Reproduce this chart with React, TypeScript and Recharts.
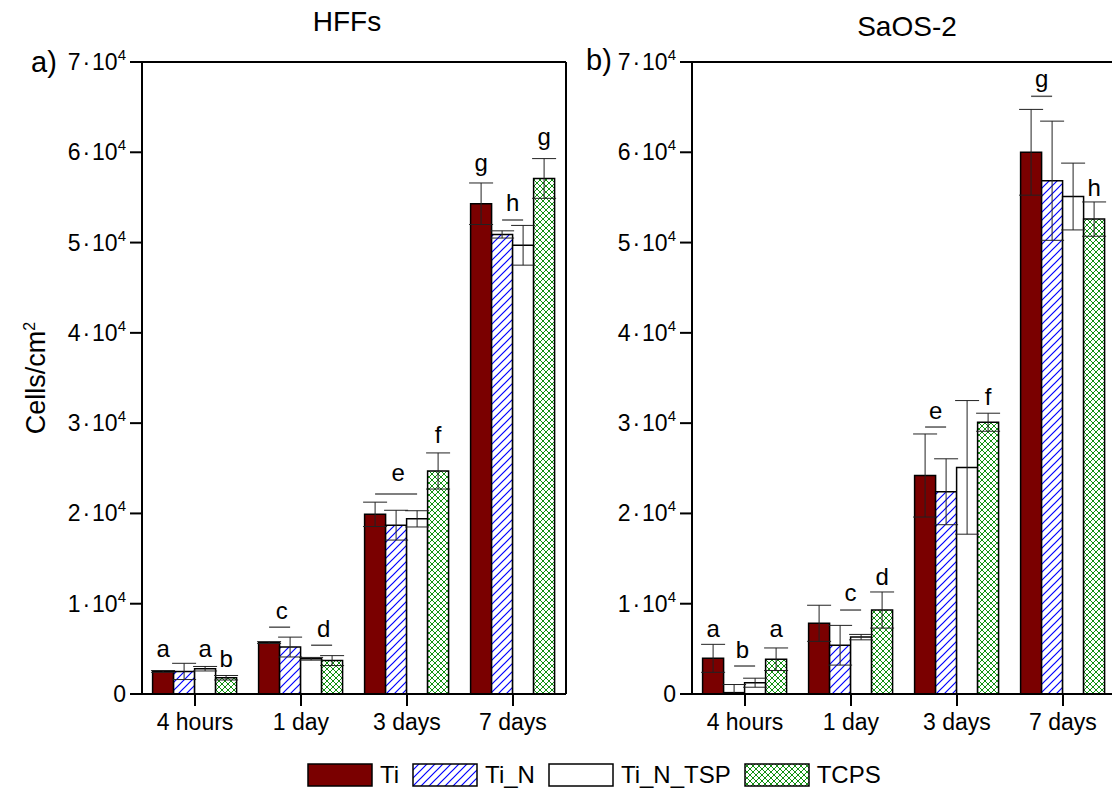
import React from 'react';
import { BarChart, Bar, XAxis, YAxis, ErrorBar, ReferenceLine } from 'recharts';

const categories = ['4 hours', '1 day', '3 days', '7 days'];
const seriesNames = ['Ti', 'Ti_N', 'Ti_N_TSP', 'TCPS'];
const yTicks = [0, 10000, 20000, 30000, 40000, 50000, 60000, 70000];
const boundaryTicks = [0, 1, 2, 3, 4];

// HFFs (panel a)
const hffTi = [2500, 5700, 19900, 54300];
const hffTiErr = [100, 100, 1350, 2300];
const hffTiN = [2500, 5200, 18700, 50900];
const hffTiNErr = [900, 1100, 1650, 400];
const hffTiNTSP = [2800, 3900, 19400, 49700];
const hffTiNTSPErr = [250, 150, 900, 2200];
const hffTCPS = [1800, 3700, 24700, 57100];
const hffTCPSErr = [250, 550, 2000, 2200];

// SaOS-2 (panel b)
const saoTi = [3950, 7830, 24200, 60000];
const saoTiErr = [1550, 2000, 4600, 4750];
const saoTiN = [150, 5400, 22400, 56850];
const saoTiNErr = [900, 2200, 3650, 6600];
const saoTiNTSP = [1250, 6300, 25100, 55100];
const saoTiNTSPErr = [500, 300, 7400, 3700];
const saoTCPS = [3850, 9300, 30100, 52600];
const saoTCPSErr = [1250, 2000, 1000, 1900];

// significance letters: category index, bar position (0..3, fractional = between bars), letter, y value
const hffLetters = [
  { cat: 0, bar: 0, text: 'a', y: 5000 },
  { cat: 0, bar: 2, text: 'a', y: 5000 },
  { cat: 0, bar: 3, text: 'b', y: 3900 },
  { cat: 1, bar: 0.6, text: 'c', y: 9300 },
  { cat: 1, bar: 2.6, text: 'd', y: 7200 },
  { cat: 2, bar: 1.1, text: 'e', y: 24500 },
  { cat: 2, bar: 3, text: 'f', y: 28700 },
  { cat: 3, bar: 0, text: 'g', y: 58900 },
  { cat: 3, bar: 1.5, text: 'h', y: 54400 },
  { cat: 3, bar: 3, text: 'g', y: 61800 },
];
const hffLines = [
  { cat: 1, from: 0, to: 1, y: 7400 },
  { cat: 1, from: 2, to: 3, y: 5400 },
  { cat: 2, from: 0, to: 2, y: 22150 },
  { cat: 3, from: 1, to: 2, y: 52500 },
];
const saoLetters = [
  { cat: 0, bar: 0, text: 'a', y: 7300 },
  { cat: 0, bar: 1.4, text: 'b', y: 4900 },
  { cat: 0, bar: 3, text: 'a', y: 7300 },
  { cat: 1, bar: 1.5, text: 'c', y: 11200 },
  { cat: 1, bar: 3, text: 'd', y: 13000 },
  { cat: 2, bar: 0.5, text: 'e', y: 31450 },
  { cat: 2, bar: 3, text: 'f', y: 32900 },
  { cat: 3, bar: 0.5, text: 'g', y: 68200 },
  { cat: 3, bar: 3, text: 'h', y: 56150 },
];
const saoLines = [
  { cat: 0, from: 1, to: 2, y: 3100 },
  { cat: 1, from: 1, to: 2, y: 9300 },
  { cat: 2, from: 0, to: 1, y: 29570 },
  { cat: 3, from: 0, to: 1, y: 66200 },
];

const FONT = '"Liberation Sans", Arial, sans-serif';

const buildRows = (ti, tiE, tin, tinE, tsp, tspE, tc, tcE) =>
  categories.map((c, i) => ({
    cat: c,
    Ti: ti[i], TiErr: [Math.min(tiE[i], ti[i]), tiE[i]],
    Ti_N: tin[i], Ti_NErr: [Math.min(tinE[i], tin[i]), tinE[i]],
    Ti_N_TSP: tsp[i], Ti_N_TSPErr: [Math.min(tspE[i], tsp[i]), tspE[i]],
    TCPS: tc[i], TCPSErr: [Math.min(tcE[i], tc[i]), tcE[i]],
  }));

const hffData = buildRows(hffTi, hffTiErr, hffTiN, hffTiNErr, hffTiNTSP, hffTiNTSPErr, hffTCPS, hffTCPSErr);
const saoData = buildRows(saoTi, saoTiErr, saoTiN, saoTiNErr, saoTiNTSP, saoTiNTSPErr, saoTCPS, saoTCPSErr);

const renderYTick = (props: any) => {
  const { x, y, payload } = props;
  const v = payload.value;
  const m = Math.round(v / 10000);
  return (
    <g transform={`translate(${x},${y})`}>
      {v === 0 ? (
        <text x={0} y={8} textAnchor="end" fontSize={23} fontFamily={FONT} fill="#000">0</text>
      ) : (
        <text x={0} y={8} textAnchor="end" fontSize={23} fontFamily={FONT} fill="#000">
          {`${m}\u200a·\u200a10`}<tspan dy={-10} fontSize={15}>4</tspan>
        </text>
      )}
    </g>
  );
};

const Annot = ({ p, vals, letters, lines }: any) => {
  const src = p.viewBox && p.viewBox.width != null ? p.viewBox : p;
  const x = Number(src.x), y = Number(src.y), width = Number(src.width), height = Number(src.height);
  const index = p.index;
  const v = vals[index];
  if (!isFinite(x) || !v) return null;
  const base = y + height;
  const k = height / v;
  const toY = (val: number) => base - val * k;
  const cx = (b: number) => x - (3 - b) * width + width / 2;
  return (
    <g>
      {lines.filter((l: any) => l.cat === index).map((l: any, j: number) => (
        <line key={'l' + j} x1={cx(l.from)} x2={cx(l.to)} y1={toY(l.y)} y2={toY(l.y)} stroke="#555" strokeWidth={1.5} />
      ))}
      {letters.filter((l: any) => l.cat === index).map((l: any, j: number) => (
        <text key={'t' + j} x={cx(l.bar)} y={toY(l.y)} textAnchor="middle" dominantBaseline="central"
          fontSize={24} fontFamily={FONT} fill="#000">{l.text}</text>
      ))}
    </g>
  );
};

const Patterns = ({ prefix }: { prefix: string }) => (
  <defs>
    <pattern id={prefix + 'hatch'} patternUnits="userSpaceOnUse" width={8} height={8}>
      <rect width={8} height={8} fill="#ffffff" />
      <path d="M0,8 L8,0 M-2,2 L2,-2 M6,10 L10,6" stroke="#0000ff" strokeWidth={1.2} fill="none" />
    </pattern>
    <pattern id={prefix + 'cross'} patternUnits="userSpaceOnUse" width={6} height={6}>
      <rect width={6} height={6} fill="#ffffff" />
      <path d="M0,6 L6,0 M-1.5,1.5 L1.5,-1.5 M4.5,7.5 L7.5,4.5 M0,0 L6,6 M-1.5,4.5 L1.5,7.5 M4.5,-1.5 L7.5,1.5"
        stroke="#119011" strokeWidth={1} fill="none" />
    </pattern>
  </defs>
);

const fills = (prefix: string) => ['#7a0000', `url(#${prefix}hatch)`, '#ffffff', `url(#${prefix}cross)`];

const Panel = ({ data, letters, lines, tcps, prefix, left, minor }: any) => {
  const f = fills(prefix);
  return (
    <div style={{ position: 'absolute', left, top: 0 }}>
      <BarChart width={580} height={760} data={data} margin={{ top: 62, right: 12, left: 0, bottom: 0 }}
        barCategoryGap="10%" barGap={0}>
        <Patterns prefix={prefix} />
        {minor && (
          <XAxis xAxisId="minor" type="number" domain={[0, 4]} ticks={boundaryTicks} height={0} tick={false}
            tickSize={7} axisLine={false} tickLine={{ stroke: '#000', strokeWidth: 2 }} allowDataOverflow />
        )}
        <XAxis dataKey="cat" height={66} tickSize={12} tickMargin={8} interval={0}
          axisLine={{ stroke: '#000', strokeWidth: 2 }} tickLine={{ stroke: '#000', strokeWidth: 2 }}
          tick={{ fontSize: 23, fontFamily: FONT, fill: '#000' }} />
        <YAxis yAxisId="left" width={142} domain={[0, 70000]} ticks={yTicks} tickSize={12} tickMargin={4}
          axisLine={{ stroke: '#000', strokeWidth: 2 }} tickLine={{ stroke: '#000', strokeWidth: 2 }}
          tick={renderYTick} interval={0} allowDataOverflow />
        <YAxis yAxisId="right" orientation="right" width={2} tick={false} tickLine={false}
          axisLine={{ stroke: '#000', strokeWidth: 2 }} />
        <ReferenceLine yAxisId="left" y={70000} stroke="#000" strokeWidth={2} />
        {seriesNames.map((s, i) => (
          <Bar key={s} yAxisId="left" dataKey={s} fill={f[i]} stroke="#000" strokeWidth={1.5} isAnimationActive={false}
            label={i === 3 ? ((p: any) => <Annot p={p} vals={tcps} letters={letters} lines={lines} />) : undefined}>
            <ErrorBar dataKey={s + 'Err'} width={12} stroke="#222" strokeWidth={1} direction="y" />
          </Bar>
        ))}
      </BarChart>
    </div>
  );
};

const LegendSwatch = ({ i }: { i: number }) => (
  <svg width={66} height={24} style={{ display: 'block' }}>
    {i === 0 && <Patterns prefix="lg" />}
    <rect x={1} y={1} width={64} height={22} fill={fills('lg')[i]} stroke="#000" strokeWidth={1.5} />
  </svg>
);

const txt = (extra: any) => ({ position: 'absolute' as const, fontFamily: FONT, color: '#000', lineHeight: 1, whiteSpace: 'nowrap' as const, ...extra });

export default function App() {
  return (
    <div style={{ position: 'absolute', left: 0, top: 0, width: 1112, height: 794, overflow: 'hidden', background: '#fff' }}>
      <Panel data={hffData} letters={hffLetters} lines={hffLines} tcps={hffTCPS} prefix="a" left={0} minor={false} />
      <Panel data={saoData} letters={saoLetters} lines={saoLines} tcps={saoTCPS} prefix="b" left={550} minor={true} />
      <div style={txt({ left: 347, top: 22, fontSize: 28, transform: 'translate(-50%,-50%)' })}>HFFs</div>
      <div style={txt({ left: 907, top: 27, fontSize: 28, transform: 'translate(-50%,-50%)' })}>SaOS-2</div>
      <div style={txt({ left: 44, top: 62, fontSize: 29, transform: 'translate(-50%,-50%)' })}>a)</div>
      <div style={txt({ left: 599, top: 60, fontSize: 29, transform: 'translate(-50%,-50%)' })}>b)</div>
      <div style={txt({ left: 36, top: 378, fontSize: 27, transform: 'translate(-50%,-50%) rotate(-90deg)' })}>
        Cells/cm<sup style={{ fontSize: 16, verticalAlign: 'super', lineHeight: 0 }}>2</sup>
      </div>
      <div style={{ position: 'absolute', left: 307, top: 763, display: 'flex', alignItems: 'center', fontFamily: FONT, fontSize: 24, lineHeight: 1 }}>
        {seriesNames.map((s, i) => (
          <div key={s} style={{ display: 'flex', alignItems: 'center', marginRight: 13 }}>
            <LegendSwatch i={i} />
            <span style={{ marginLeft: 7 }}>{s}</span>
          </div>
        ))}
      </div>
    </div>
  );
}
